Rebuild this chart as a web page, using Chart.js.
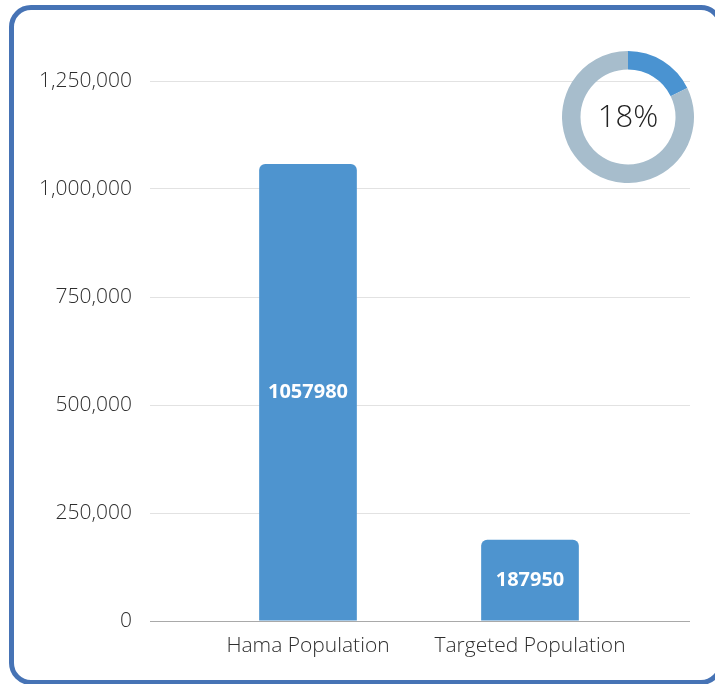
<!DOCTYPE html>
<html>
<head>
<meta charset="utf-8">
<script src="https://cdn.jsdelivr.net/npm/chart.js@4.4.1/dist/chart.umd.min.js"></script>
<style>
  html, body { margin: 0; padding: 0; background: #fff; overflow: hidden; }
  #page { position: relative; width: 715px; height: 684px; overflow: hidden; }
  #card {
    position: absolute; left: 9px; top: 5px; width: 704px; height: 670px;
    border: 5px solid #4673b5; border-radius: 22px; box-sizing: content-box;
  }
  #bar-chart-canvas { position: absolute; left: 0; top: 0; }
  #donut-canvas { position: absolute; left: 562px; top: 51px; }
</style>
</head>
<body>
<div id="page">
  <div id="card"></div>
  <canvas id="bar-chart-canvas" width="715" height="684"></canvas>
  <canvas id="donut-canvas" width="132" height="132"></canvas>
</div>
<script>
const categories = ['Hama Population', 'Targeted Population'];
const populationValues = [1057980, 187950];
const yTicks = [0, 250000, 500000, 750000, 1000000, 1250000];

const barColor = '#4e94cf';
const fontFamily = '"Open Sans", sans-serif';

// share of the targeted population in the whole, shown in the ring
const targetedShare = populationValues[1] / populationValues[0];
const donutValues = [populationValues[1], populationValues[0] - populationValues[1]];

const gridColor = (ctx) => (ctx.tick && ctx.tick.value === 0 ? '#a9a9a9' : '#e2e2e2');

const barLabels = {
  id: 'barLabels',
  afterDatasetsDraw(chart) {
    const { ctx } = chart;
    const meta = chart.getDatasetMeta(0);
    ctx.save();
    ctx.fillStyle = '#ffffff';
    ctx.font = `bold 20px ${fontFamily}`;
    ctx.textAlign = 'center';
    ctx.textBaseline = 'middle';
    meta.data.forEach((bar, index) => {
      const y = (bar.y + bar.base) / 2;
      ctx.fillText(String(populationValues[index]), bar.x, y);
    });
    ctx.restore();
  },
};

const barChart = new Chart(document.getElementById('bar-chart-canvas'), {
  type: 'bar',
  data: {
    labels: categories,
    datasets: [{
      data: populationValues,
      backgroundColor: barColor,
      borderWidth: 0,
      borderRadius: 6,
      barPercentage: 0.44,
      categoryPercentage: 1,
    }],
  },
  options: {
    responsive: false,
    animation: false,
    events: [],
    layout: { padding: { top: 81, right: 25, left: 0, bottom: 0 } },
    plugins: { legend: { display: false }, tooltip: { enabled: false } },
    scales: {
      x: {
        grid: { display: false, drawTicks: false },
        border: { display: false },
        ticks: { color: '#2e2e2e', padding: 12, font: { family: fontFamily, size: 21, weight: 300 } },
        afterFit: (axis) => { axis.height = 63; },
      },
      y: {
        min: 0,
        max: 1250000,
        afterBuildTicks: (axis) => { axis.ticks = yTicks.map((v) => ({ value: v })); },
        grid: { color: gridColor, lineWidth: 1, tickLength: 47, drawTicks: true },
        border: { display: false },
        ticks: {
          color: '#2e2e2e',
          padding: 18,
          font: { family: fontFamily, size: 21, weight: 300 },
          callback: (v) => v.toLocaleString('en-US'),
        },
        afterFit: (axis) => { axis.width = 197; },
      },
      y2: {
        position: 'right',
        min: 0,
        max: 1250000,
        afterBuildTicks: (axis) => { axis.ticks = yTicks.map((v) => ({ value: v })); },
        grid: { color: gridColor, lineWidth: 1, tickLength: 49, drawTicks: true, drawOnChartArea: false },
        border: { display: false },
        ticks: { display: false },
        afterFit: (axis) => { axis.width = 49; },
      },
    },
  },
  plugins: [barLabels],
});

const centerText = {
  id: 'centerText',
  afterDraw(chart) {
    const { ctx, chartArea } = chart;
    const cx = (chartArea.left + chartArea.right) / 2;
    const cy = (chartArea.top + chartArea.bottom) / 2;
    ctx.save();
    ctx.fillStyle = '#222';
    ctx.font = `300 31px ${fontFamily}`;
    ctx.textAlign = 'center';
    ctx.textBaseline = 'middle';
    ctx.fillText(`${Math.round(targetedShare * 100)}%`, cx, cy + 1);
    ctx.restore();
  },
};

const donutChart = new Chart(document.getElementById('donut-canvas'), {
  type: 'doughnut',
  data: {
    labels: ['Targeted', 'Rest'],
    datasets: [{
      data: donutValues,
      backgroundColor: ['#4a93d1', '#a7bdcc'],
      borderWidth: 0,
    }],
  },
  options: {
    responsive: false,
    animation: false,
    events: [],
    cutout: '72%',
    plugins: { legend: { display: false }, tooltip: { enabled: false } },
  },
  plugins: [centerText],
});
</script>
</body>
</html>
